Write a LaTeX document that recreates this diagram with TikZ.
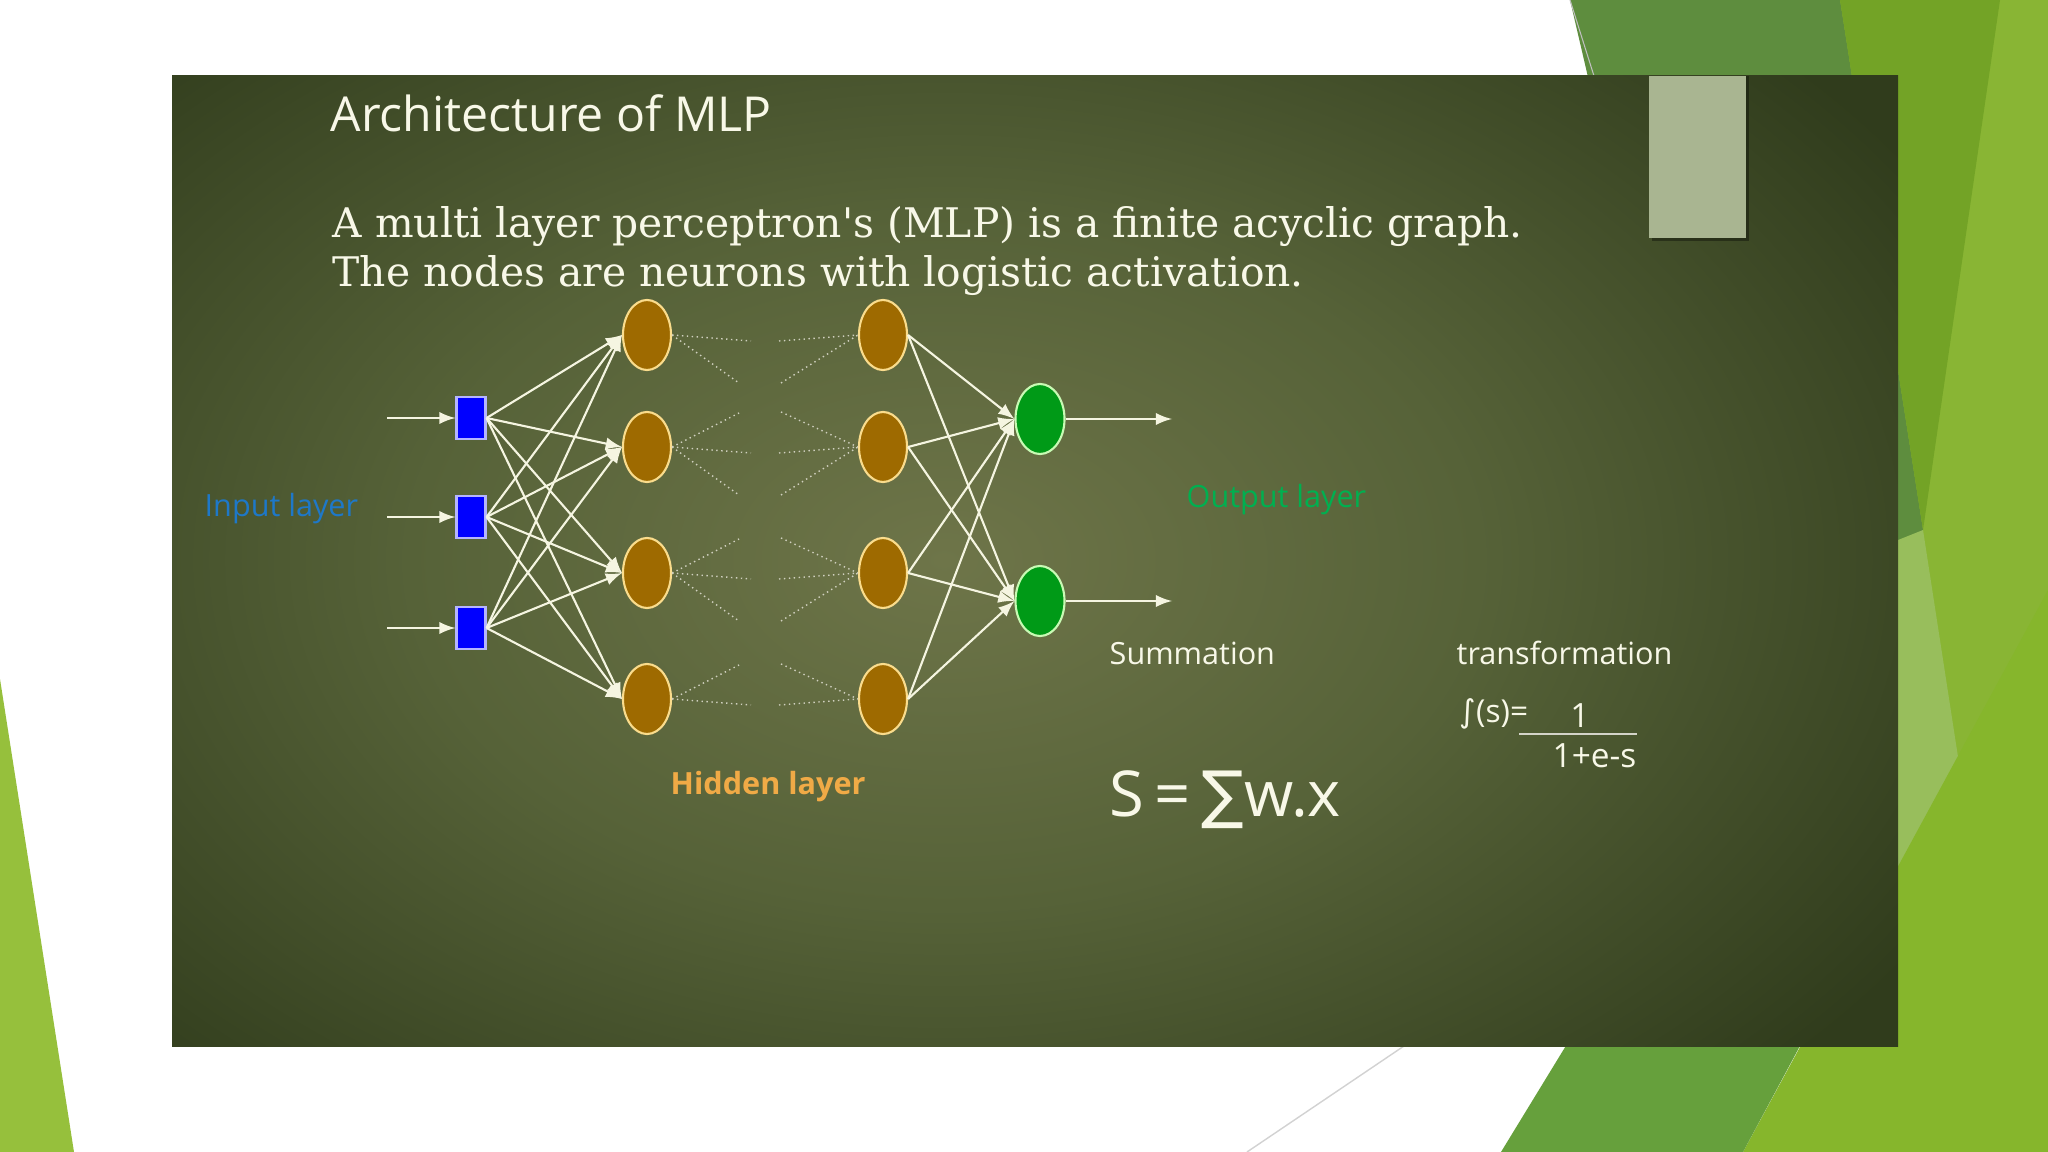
\documentclass[tikz,border=0pt]{standalone}
\usepackage{fontspec}
\setmainfont{Open Sans}
\newfontfamily\bodyfont{DejaVu Serif}
\newfontfamily\symfont{DejaVu Sans}
\usepackage{tikz}
\usetikzlibrary{shapes, arrows, positioning, calc}

\definecolor{slidein}{RGB}{110,117,73}
\definecolor{slidemid}{RGB}{86,98,56}
\definecolor{slideout}{RGB}{48,60,28}
\definecolor{tabgray}{RGB}{169,181,145}
\definecolor{darkfacet}{RGB}{94,141,62}
\definecolor{midfacet}{RGB}{115,163,38}
\definecolor{lightfacet}{RGB}{137,181,52}
\definecolor{palefacet}{RGB}{152,190,92}
\definecolor{limefacet}{RGB}{134,182,44}
\definecolor{bandfacet}{RGB}{102,160,60}
\definecolor{leftfacet}{RGB}{150,192,60}
\definecolor{chalk}{RGB}{248,248,232}
\definecolor{linkcol}{RGB}{245,245,225}
\definecolor{hidfill}{RGB}{158,106,0}
\definecolor{hidborder}{RGB}{250,220,140}
\definecolor{outfill}{RGB}{0,154,23}
\definecolor{outborder}{RGB}{200,250,180}
\definecolor{inblue}{RGB}{30,120,200}
\definecolor{outgreen}{RGB}{0,176,80}
\definecolor{hidorange}{RGB}{240,170,70}

\pgfdeclareradialshading{slideglow}{\pgfpoint{0bp}{0bp}}{color(0bp)=(slidein); color(14bp)=(slidemid); color(30bp)=(slideout); color(50bp)=(slideout)}

\begin{document}
\begin{tikzpicture}[x=0.01cm, y=-0.01cm,
    inputnode/.style={rectangle, draw={rgb,255:red,180;green,180;blue,255}, fill=blue, line width=0.6pt, minimum width=0.29cm, minimum height=0.42cm, inner sep=0pt},
    hiddennode/.style={ellipse, draw=hidborder, fill=hidfill, line width=0.6pt, minimum width=0.48cm, minimum height=0.70cm, inner sep=0pt},
    outputnode/.style={ellipse, draw=outborder, fill=outfill, line width=0.6pt, minimum width=0.49cm, minimum height=0.70cm, inner sep=0pt},
    link/.style={draw=linkcol, line width=0.6pt},
    stub/.style={draw=linkcol!85!black, densely dotted, line width=0.4pt},
    labeltext/.style={font=\fontsize{8.7}{10.4}\selectfont, inner sep=0pt, anchor=west}]

    \useasboundingbox (0,0) rectangle (2048,1152);

    % theme background
    \fill[white] (0,0) rectangle (2048,1152);
    \fill[leftfacet] (0,679) -- (74,1152) -- (0,1152) -- cycle;
    \fill[lightfacet] (1800,0) -- (2048,0) -- (2048,1152) -- (1800,1152) -- cycle;
    \fill[darkfacet] (1570,0) -- (1840,0) -- (1923,530) -- (1898,565) -- (1640,300) -- cycle;
    \draw[gray!50, line width=0.3pt] (1570,0) -- (1594,76);
    \fill[midfacet] (1840,0) -- (2000,0) -- (1923,530) -- cycle;
    \fill[palefacet] (1898,540) -- (1923,530) -- (1958,757) -- (1898,870) -- cycle;
    \fill[limefacet] (1743,1152) -- (2048,590) -- (2048,1152) -- cycle;
    \fill[bandfacet] (1501,1152) -- (1600,990) -- (1830,990) -- (1743,1152) -- cycle;
    \draw[gray!35, line width=0.4pt] (1247,1152) -- (1404,1046);

    % slide
    \begin{scope}
        \clip (172,76) rectangle (1898,1046);
        \shade[shading=slideglow] (-10,-60) rectangle (1898,1180);
    \end{scope}
    \fill[black, opacity=0.35] (1652,76) rectangle (1749,241);
    \fill[tabgray] (1649,76) rectangle (1746,238);

    \node[anchor=base west, inner sep=0pt, text=chalk, font=\fontsize{13.7}{16}\selectfont] (title) at (330,132) {Architecture of MLP};
    \node[anchor=base west, inner sep=0pt, text=chalk, font=\bodyfont\fontsize{11.6}{14}\selectfont] (line1) at (332,238) {A multi layer perceptron's (MLP) is a finite acyclic graph.};
    \node[anchor=base west, inner sep=0pt, text=chalk, font=\bodyfont\fontsize{11.6}{14}\selectfont] (line2) at (332,287) {The nodes are neurons with logistic activation.};

    % layers
    \foreach \y [count=\i] in {418,517,628} {
        \node[inputnode] (in\i) at (471,\y) {};
        \coordinate (src\i) at (387,\y);
    }
    \foreach \y [count=\j] in {335,447,573,699} {
        \node[hiddennode] (ha\j) at (647,\y) {};
        \node[hiddennode] (hb\j) at (883,\y) {};
        \coordinate (ga\j) at (751,\y+6);
        \coordinate (gb\j) at (779,\y+6);
        \coordinate (ua\j) at (739,\y-34);
        \coordinate (da\j) at (739,\y+48);
        \coordinate (ub\j) at (781,\y-35);
        \coordinate (db\j) at (781,\y+48);
    }
    \foreach \y [count=\k] in {419,601} {
        \node[outputnode] (out\k) at (1040,\y) {};
        \coordinate (sink\k) at (1172,\y);
    }

    % connections
    \foreach \i in {1,2,3} {
        \draw[link, -latex] (src\i) -- (in\i.west);
        \foreach \j in {1,...,4}
            \draw[link, -latex] (in\i.east) -- (ha\j.west);
    }
    \foreach \j in {1,...,4} {
        \draw[stub] (ha\j.east) -- (ga\j);
        \draw[stub] (gb\j) -- (hb\j.west);
        \foreach \k in {1,2}
            \draw[link, -latex] (hb\j.east) -- (out\k.west);
    }
    \foreach \j in {2,3,4} {
        \draw[stub] (ha\j.east) -- (ua\j);
        \draw[stub] (ub\j) -- (hb\j.west);
    }
    \foreach \j in {1,2,3} {
        \draw[stub] (ha\j.east) -- (da\j);
        \draw[stub] (db\j) -- (hb\j.west);
    }
    \foreach \k in {1,2}
        \draw[link, -latex] (out\k.east) -- (sink\k);

    % labels
    \node[labeltext, text=inblue] (inlabel) at (204,509) {Input layer};
    \node[labeltext, text=outgreen] (outlabel) at (1186,500) {Output layer};
    \node[labeltext, text=hidorange, font=\bfseries\fontsize{8.7}{10.4}\selectfont] (hidlabel) at (670,787) {Hidden layer};
    \node[labeltext, text=chalk] (sumlabel) at (1109,653) {Summation};
    \node[labeltext, text=chalk] (translabel) at (1456,653) {transformation};

    % formulas
    \node[anchor=base west, inner sep=0pt, text=chalk, font=\fontsize{18}{20}\selectfont] (sumeq) at (1109,816) {S\,=\,{\symfont ∑}w.x};
    \node[anchor=base west, inner sep=0pt, text=chalk, font=\fontsize{9}{11}\selectfont] (sigleft) at (1459,722) {{\symfont ∫}(s)=};
    \node[anchor=base, inner sep=0pt, text=chalk, font=\fontsize{9.5}{11}\selectfont] (signum) at (1580,727) {1};
    \node[anchor=base west, inner sep=0pt, text=chalk, font=\fontsize{9.5}{11}\selectfont] (sigden) at (1552,767) {1+e-s};
    \coordinate (barl) at (1519,734);
    \coordinate (barr) at (1637,734);
    \draw[chalk!70!gray, line width=0.4pt] (barl) -- (barr);
\end{tikzpicture}
\end{document}
